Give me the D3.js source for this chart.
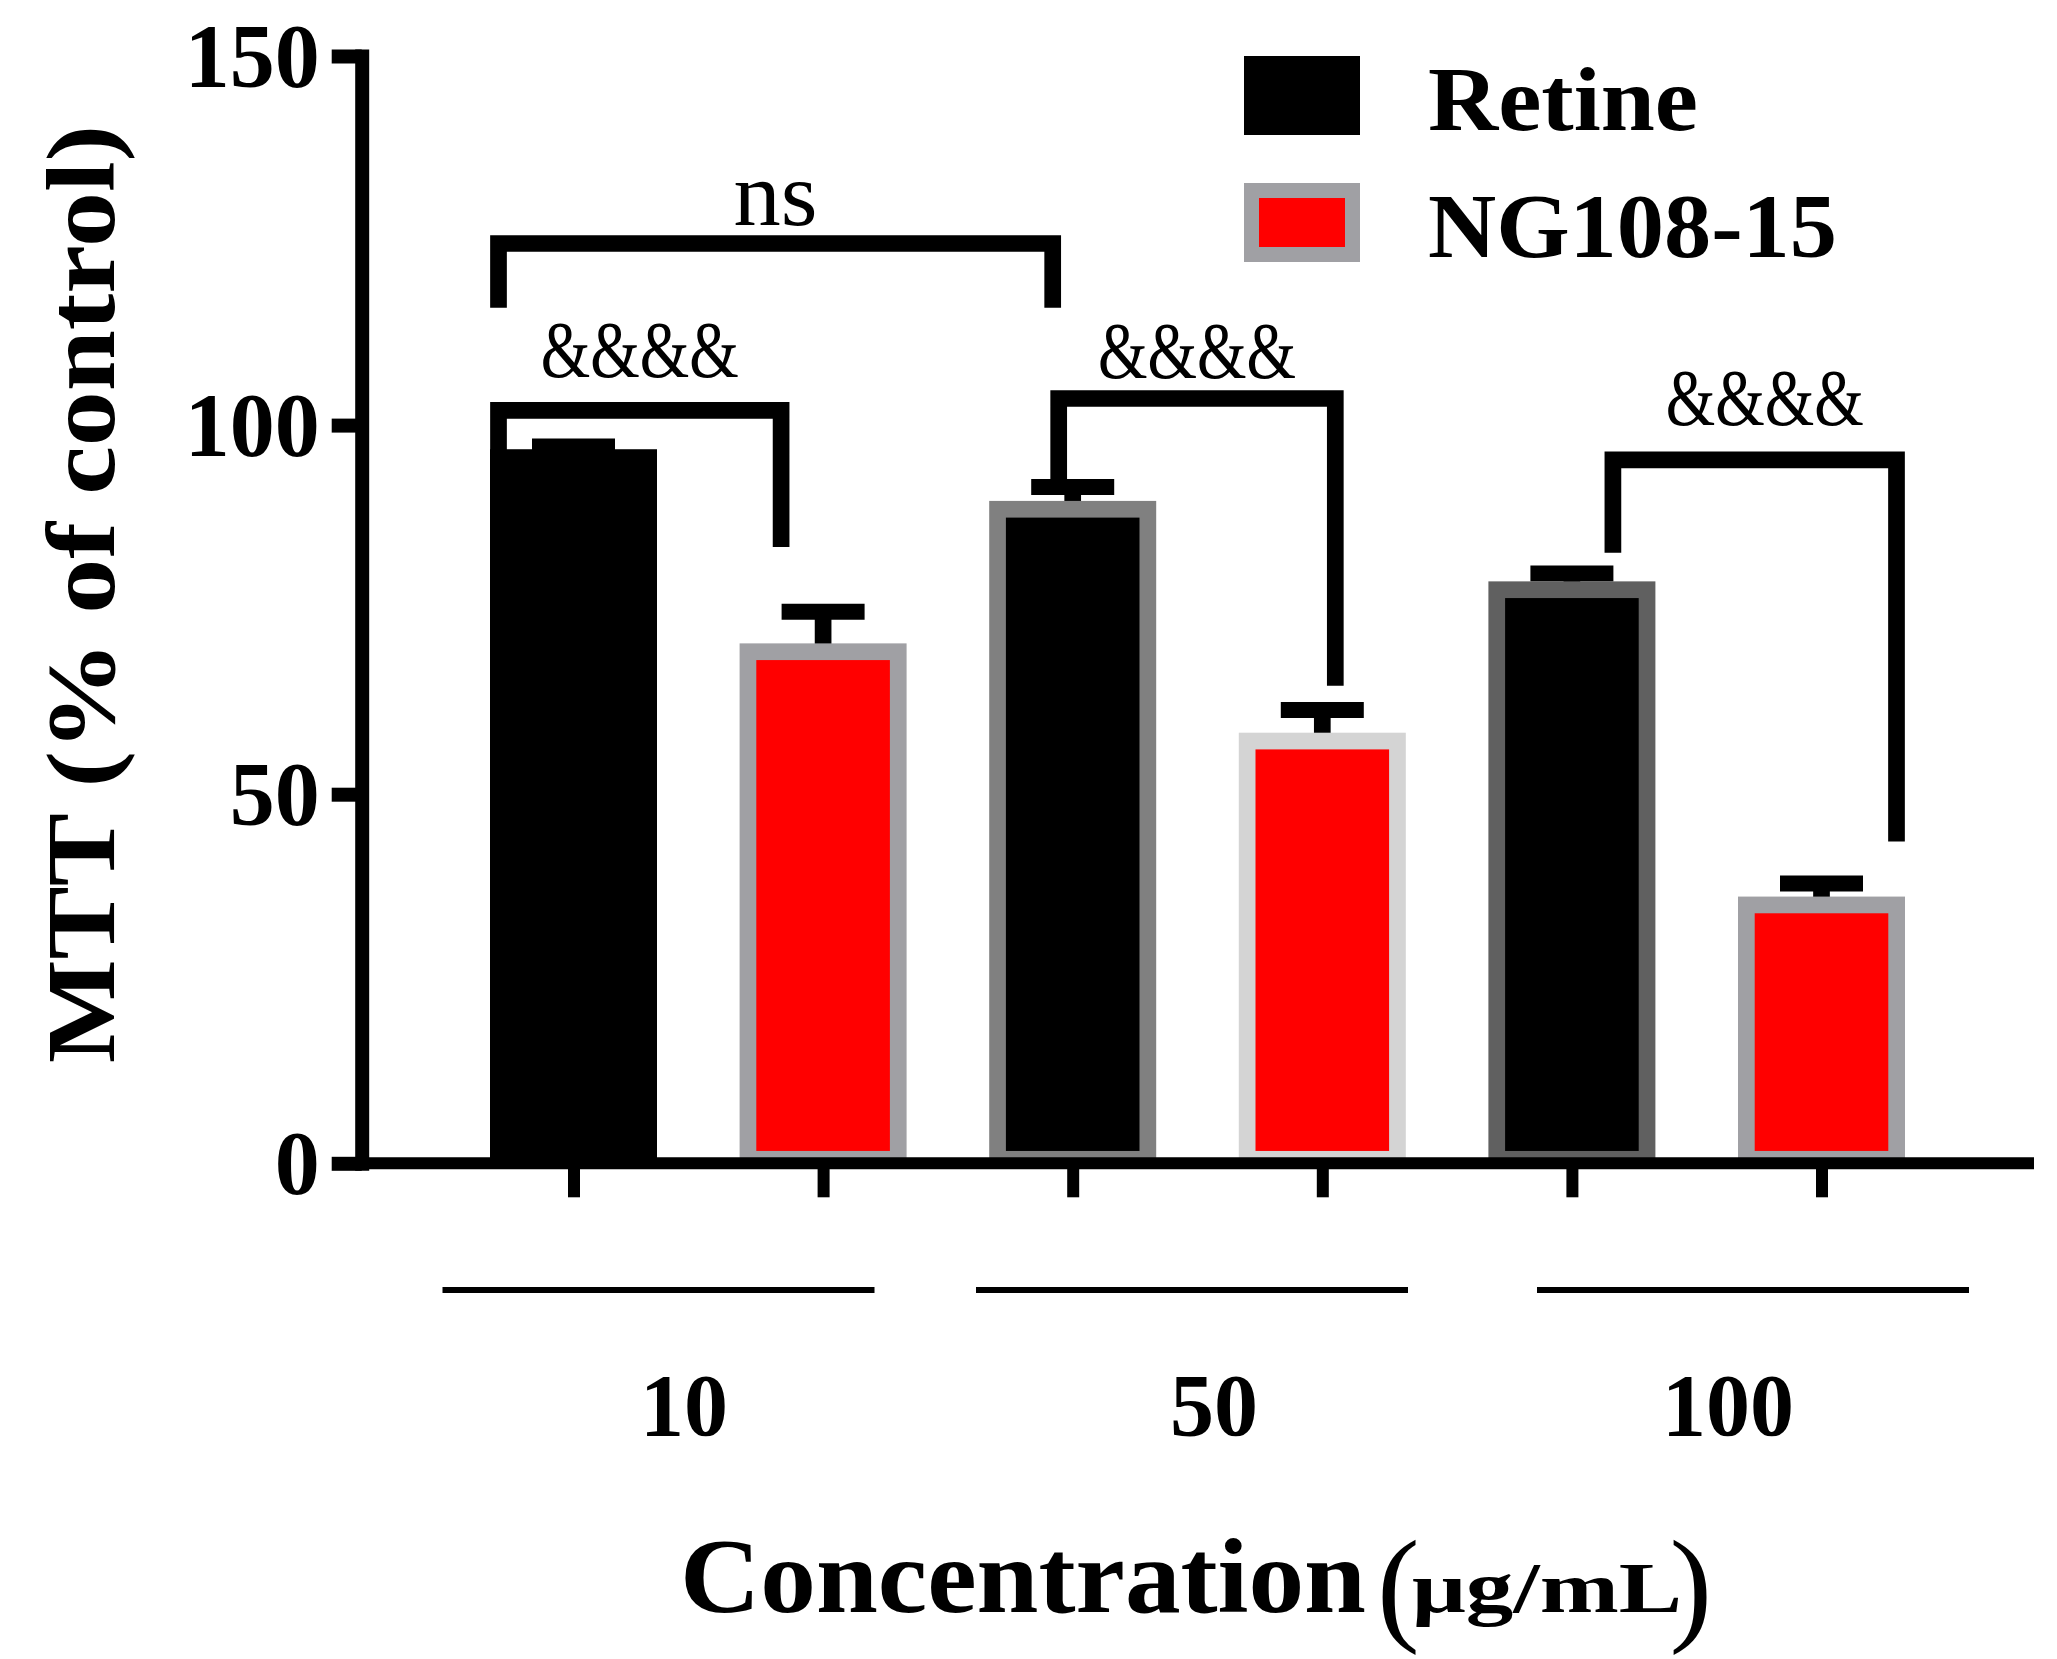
<!DOCTYPE html>
<html>
<head>
<meta charset="utf-8">
<script src="https://cdn.jsdelivr.net/npm/d3@7"></script>
<style>
  body { margin: 0; background: white; }
  text { font-family: "Liberation Serif", "Times New Roman", serif; fill: black; }
</style>
</head>
<body>
<div id="vis"></div>
<script>
var width = 2057;
var height = 1659;

// data
var concentrations = ["10", "50", "100"];
var series = ["Retine", "NG108-15"];
var retineMean = [95.6, 88.6, 77.7];
var retineSem = [1.5, 3.0, 2.2];
var ngMean = [69.3, 57.2, 35.0];
var ngSem = [5.4, 4.2, 2.9];
var yTicks = [0, 50, 100, 150];

// significance brackets (bar index pairs, levels in % units)
var sigLabels = ["ns", "&&&&", "&&&&", "&&&&"];
var sigPairs = [[0, 2], [0, 1], [2, 3], [4, 5]];
var sigTop = [124.6, 102.0, 103.6, 95.3];
var sigLegs = [[115.9, 115.9], [96.0, 83.5], [92.7, 64.7], [82.7, 43.6]];
var sigLabelLevel = [127.1, 106.5, 106.4, 100.0];

// styling
var borderColors = ["#000000", "#a0a0a4", "#808080", "#d4d4d4", "#606060", "#a0a0a4"];
var fillColors = {"Retine": "#000000", "NG108-15": "#ff0000"};
var sigDx = [[-75, -20], [-75, -42], [-14, 13], [41, 75]];
var sigLabelDx = [0, 0, 0, 10];
var thick = 16.7;

var svg = d3.select("#vis")
  .append("svg")
  .attr("width", width)
  .attr("height", height)
  .style("background-color", "white");

// build bar list
var bars = [];
concentrations.forEach((c, i) => {
  bars.push({conc: c, series: series[0], mean: retineMean[i], sem: retineSem[i]});
  bars.push({conc: c, series: series[1], mean: ngMean[i], sem: ngSem[i]});
});
bars.forEach((d, i) => { d.key = d.conc + "|" + d.series; d.idx = i; });

var y = d3.scaleLinear().domain([0, 150]).range([1163.3, 56]);
var x = d3.scalePoint().domain(bars.map(d => d.key)).range([573.5, 1821.5]);
var barW = 150.3;
var axisX = 361.7;

// error bars (behind bars)
var err = svg.append("g").attr("class", "errors");
err.selectAll("line.stem")
  .data(bars)
  .join("line")
  .attr("class", "stem")
  .attr("x1", d => x(d.key)).attr("x2", d => x(d.key))
  .attr("y1", d => y(d.mean)).attr("y2", d => y(d.mean + d.sem))
  .attr("stroke", "black")
  .attr("stroke-width", thick);
err.selectAll("line.cap")
  .data(bars)
  .join("line")
  .attr("class", "cap")
  .attr("x1", d => x(d.key) - 41.5).attr("x2", d => x(d.key) + 41.5)
  .attr("y1", d => y(d.mean + d.sem)).attr("y2", d => y(d.mean + d.sem))
  .attr("stroke", "black")
  .attr("stroke-width", 16);

// bars
svg.append("g").selectAll("rect")
  .data(bars)
  .join("rect")
  .attr("x", d => x(d.key) - barW / 2)
  .attr("width", barW)
  .attr("y", d => y(d.mean))
  .attr("height", d => y(0) - 4 - y(d.mean))
  .attr("fill", d => fillColors[d.series])
  .attr("stroke", (d, i) => borderColors[i])
  .attr("stroke-width", thick);

// brackets
var sig = svg.append("g").attr("class", "sig");
sigPairs.forEach((p, i) => {
  var x1 = x(bars[p[0]].key) + sigDx[i][0];
  var x2 = x(bars[p[1]].key) + sigDx[i][1];
  var yt = y(sigTop[i]);
  sig.append("path")
    .attr("d", `M${x1},${y(sigLegs[i][0])} L${x1},${yt} L${x2},${yt} L${x2},${y(sigLegs[i][1])}`)
    .attr("fill", "none")
    .attr("stroke", "black")
    .attr("stroke-width", thick)
    .attr("stroke-linejoin", "miter");
  var t = sig.append("text")
    .attr("x", (x1 + x2) / 2 + sigLabelDx[i])
    .attr("y", y(sigLabelLevel[i]))
    .attr("text-anchor", "middle")
    .text(sigLabels[i]);
  if (sigLabels[i] == "ns") {
    t.style("font-size", "90px").attr("textLength", 84).attr("lengthAdjust", "spacingAndGlyphs");
  } else {
    t.style("font-size", "80px").attr("textLength", 198).attr("lengthAdjust", "spacingAndGlyphs");
  }
});

// y axis
var yAxis = d3.axisLeft(y)
  .tickValues(yTicks)
  .tickSize(30)
  .tickSizeOuter(0)
  .tickPadding(12);
var ya = svg.append("g")
  .attr("transform", `translate(${axisX},0)`)
  .call(yAxis);
ya.select(".domain")
  .attr("stroke", "black")
  .attr("stroke-width", 14)
  .attr("stroke-linecap", "square");
ya.selectAll(".tick line")
  .attr("stroke", "black")
  .attr("stroke-width", 14);
ya.selectAll(".tick text")
  .attr("font-family", null)
  .attr("font-size", null)
  .style("font-size", "90px")
  .style("font-weight", "bold")
  .attr("dy", "0.34em");

// x axis line and ticks
svg.append("line")
  .attr("x1", axisX).attr("x2", 2034)
  .attr("y1", y(0)).attr("y2", y(0))
  .attr("stroke", "black")
  .attr("stroke-width", 12);
var xAxis = d3.axisBottom(x)
  .tickSize(34)
  .tickSizeOuter(0)
  .tickFormat("");
var xa = svg.append("g")
  .attr("transform", `translate(0,${y(0)})`)
  .call(xAxis);
xa.select(".domain").remove();
xa.selectAll(".tick line")
  .attr("stroke", "black")
  .attr("stroke-width", 12);

// group lines and labels under the axis
var lineScale = d3.scaleOrdinal().domain(concentrations).range([658.5, 1192, 1753]);
var labelScale = d3.scaleOrdinal().domain(concentrations).range([684, 1214, 1728]);
svg.append("g").selectAll("line")
  .data(concentrations)
  .join("line")
  .attr("x1", d => lineScale(d) - 216).attr("x2", d => lineScale(d) + 216)
  .attr("y1", 1290).attr("y2", 1290)
  .attr("stroke", "black")
  .attr("stroke-width", 6);
svg.append("g").selectAll("text")
  .data(concentrations)
  .join("text")
  .attr("x", d => labelScale(d))
  .attr("y", 1435)
  .attr("text-anchor", "middle")
  .style("font-size", "88px")
  .style("font-weight", "bold")
  .text(d => d);

// axis titles
svg.append("text")
  .attr("transform", "translate(114,594) rotate(-90)")
  .attr("text-anchor", "middle")
  .attr("textLength", 938)
  .attr("lengthAdjust", "spacingAndGlyphs")
  .style("font-size", "97px")
  .style("font-weight", "bold")
  .text("MTT (% of control)");

svg.append("text")
  .attr("x", 680).attr("y", 1612)
  .attr("textLength", 686)
  .attr("lengthAdjust", "spacingAndGlyphs")
  .style("font-size", "106px")
  .style("font-weight", "bold")
  .text("Concentration");
svg.append("text")
  .attr("x", 1377).attr("y", 1628)
  .style("font-size", "128px")
  .text("(");
svg.append("text")
  .attr("x", 1412).attr("y", 1612)
  .attr("textLength", 270)
  .attr("lengthAdjust", "spacingAndGlyphs")
  .style("font-size", "71px")
  .style("font-weight", "bold")
  .text("\u03bcg/mL");
svg.append("text")
  .attr("x", 1712).attr("y", 1628)
  .attr("text-anchor", "end")
  .style("font-size", "128px")
  .text(")");

// legend
var legend = svg.append("g").attr("class", "legend");
series.forEach((s, i) => {
  var ly = 56 + i * 127;
  legend.append("rect")
    .attr("x", 1244 + 7.5).attr("y", ly + 7.5)
    .attr("width", 116 - 15).attr("height", 79 - 15)
    .attr("fill", fillColors[s])
    .attr("stroke", i == 0 ? "#000000" : "#a0a0a4")
    .attr("stroke-width", 15);
  legend.append("text")
    .attr("x", 1428).attr("y", ly + 74)
    .attr("textLength", i == 0 ? 270 : 409)
    .attr("lengthAdjust", "spacingAndGlyphs")
    .style("font-size", "92px")
    .style("font-weight", "bold")
    .text(s);
});
</script>
</body>
</html>
